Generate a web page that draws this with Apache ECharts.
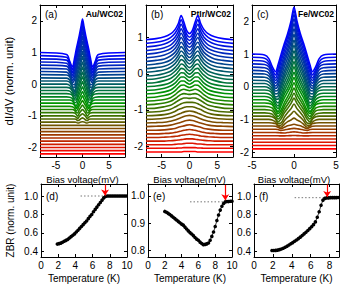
<!DOCTYPE html>
<html><head><meta charset="utf-8">
<script src="https://cdn.jsdelivr.net/npm/echarts@6/dist/echarts.min.js"></script>
<style>html,body{margin:0;padding:0;background:#fff}#c{width:359px;height:284px}</style>
</head><body><div id="c"></div>
<script>
// ---------- Panel (a) Au/WC02: half-profile bias grid (mV), curve offsets, deviations ----------
const biasA = [0,0.3,0.6,0.9,1.2,1.5,1.9,2.4,3.0,8];
const offsetsA = [1.0,0.9,0.8,0.7,0.6,0.5,0.4,0.3,0.2,0.1,0.0,-0.1,-0.2,-0.3,-0.4,-0.5,-0.6,-0.7,-0.8,-0.9,-1.0,-1.1,-1.2,-1.3,-1.4,-1.5,-1.6,-1.7,-1.8,-1.9,-2.0,-2.1,-2.2];
const curvesA = [
[1.06,.80,.54,.31,.08,-.18,-.46,-.28,-.06,0],
[1.03,.77,.51,.29,.05,-.21,-.45,-.24,-.05,0],
[.99,.74,.49,.27,.02,-.23,-.44,-.21,-.04,0],
[.95,.70,.46,.25,.01,-.24,-.42,-.19,-.04,0],
[.90,.66,.42,.21,-.02,-.25,-.40,-.16,-.03,0],
[.85,.62,.39,.18,-.05,-.27,-.38,-.13,-.02,0],
[.79,.57,.36,.17,-.06,-.27,-.35,-.12,-.02,0],
[.73,.52,.31,.12,-.11,-.32,-.29,-.07,-.01,0],
[.67,.47,.28,.10,-.11,-.30,-.27,-.07,-.01,0],
[.60,.41,.23,.06,-.16,-.33,-.20,-.04,0,0],
[.54,.37,.20,.05,-.15,-.31,-.19,-.04,0,0],
[.48,.32,.16,0,-.19,-.28,-.12,-.02,0,0],
[.43,.29,.14,-.01,-.18,-.26,-.11,-.02,0,0],
[.38,.24,.11,-.04,-.20,-.20,-.06,-.01,0,0],
[.32,.20,.09,-.04,-.18,-.18,-.05,-.01,0,0],
[.27,.16,.06,-.08,-.20,-.13,-.03,0,0,0],
[.23,.13,.03,-.10,-.17,-.07,-.01,0,0,0],
[.18,.10,.02,-.09,-.15,-.06,-.01,0,0,0],
[.14,.07,0,-.11,-.10,-.03,0,0,0,0],
[.10,.05,-.02,-.11,-.05,-.01,0,0,0,0],
[.065,.03,-.02,-.09,-.04,-.01,0,0,0,0],
[.035,.01,-.03,-.05,-.01,0,0,0,0,0],
[.015,.005,-.015,-.025,-.005,0,0,0,0,0],
[0,0,0,0,0,0,0,0,0,0],[0,0,0,0,0,0,0,0,0,0],[0,0,0,0,0,0,0,0,0,0],[0,0,0,0,0,0,0,0,0,0],[0,0,0,0,0,0,0,0,0,0],
[0,0,0,0,0,0,0,0,0,0],[0,0,0,0,0,0,0,0,0,0],[0,0,0,0,0,0,0,0,0,0],[0,0,0,0,0,0,0,0,0,0],[0,0,0,0,0,0,0,0,0,0]
];

// ---------- Panel (b) PtIr/WC02 ----------
const biasB = [0,0.5,1.0,1.5,2.0,2.6,3.4,4.5,6.0,7.8];
const offsetsB = [0.94,0.84,0.74,0.64,0.54,0.44,0.34,0.24,0.14,0.04,-0.06,-0.16,-0.26,-0.36,-0.46,-0.56,-0.66,-0.76,-0.86,-0.96,-1.06,-1.16,-1.26,-1.36,-1.46,-1.56,-1.66,-1.76,-1.86,-1.96,-2.06,-2.16];
const curvesB = [
[.17,.25,.48,.67,.45,.28,.16,.08,.03,0],
[.17,.25,.47,.65,.44,.28,.16,.08,.03,0],
[.18,.25,.47,.63,.43,.27,.16,.08,.03,0],
[.18,.26,.46,.60,.42,.27,.15,.08,.03,0],
[.19,.26,.45,.58,.41,.26,.15,.08,.03,0],
[.19,.27,.44,.56,.40,.26,.15,.08,.03,0],
[.20,.27,.44,.53,.39,.25,.15,.07,.03,0],
[.21,.28,.43,.51,.38,.25,.14,.07,.03,0],
[.22,.28,.42,.49,.37,.24,.14,.07,.03,0],
[.23,.29,.41,.47,.36,.24,.14,.07,.03,0],
[.23,.29,.41,.45,.34,.23,.13,.07,.02,0],
[.24,.30,.40,.43,.33,.23,.13,.07,.02,0],
[.25,.30,.39,.41,.32,.22,.13,.07,.02,0],
[.26,.30,.38,.39,.31,.21,.12,.06,.02,0],
[.26,.31,.37,.37,.30,.20,.12,.06,.02,0],
[.27,.31,.36,.36,.29,.20,.11,.06,.02,0],
[.28,.31,.35,.34,.28,.19,.11,.06,.02,0],
[.29,.31,.33,.31,.26,.18,.10,.05,.02,0],
[.29,.30,.31,.29,.24,.17,.10,.05,.02,0],
[.28,.29,.29,.26,.22,.16,.09,.05,.01,0],
[.27,.27,.26,.23,.19,.14,.08,.04,.01,0],
[.25,.25,.23,.20,.17,.12,.07,.03,.01,0],
[.23,.22,.20,.17,.14,.10,.06,.03,.01,0],
[.21,.20,.18,.15,.12,.08,.05,.02,.01,0],
[.18,.17,.15,.12,.10,.07,.04,.02,.01,0],
[.15,.14,.12,.10,.08,.05,.03,.01,0,0],
[.12,.11,.10,.08,.06,.04,.02,.01,0,0],
[.09,.08,.07,.06,.04,.03,.02,.01,0,0],
[.06,.06,.05,.04,.03,.02,.01,0,0,0],
[.04,.04,.03,.02,.02,.01,0,0,0,0],
[.02,.02,.02,.01,.01,0,0,0,0,0],
[.01,.01,.01,0,0,0,0,0,0,0]
];

// ---------- Panel (c) Fe/WC02 ----------
const biasC = [0,0.35,0.75,1.15,1.55,1.9,2.2,2.6,3.0,3.5,5];
const offsetsC = [1.0,0.9,0.8,0.7,0.6,0.5,0.4,0.3,0.2,0.1,0.0,-0.1,-0.2,-0.3,-0.4,-0.5,-0.6,-0.7,-0.8,-0.9,-1.0,-1.1,-1.2,-1.3,-1.4,-1.5,-1.6,-1.7,-1.8,-1.9];
const curvesC = [
[1.44,1.01,.63,.32,-.02,-.33,-.54,-.38,-.14,-.03,0],
[1.43,1.00,.63,.32,-.03,-.34,-.54,-.37,-.14,-.03,0],
[1.41,.99,.61,.30,-.04,-.36,-.53,-.34,-.12,-.03,0],
[1.38,.95,.58,.27,-.07,-.39,-.51,-.30,-.09,-.02,0],
[1.33,.92,.55,.25,-.09,-.39,-.49,-.28,-.08,-.02,0],
[1.27,.87,.53,.24,-.09,-.39,-.48,-.27,-.08,-.02,0],
[1.20,.82,.49,.21,-.11,-.38,-.45,-.23,-.07,-.01,0],
[1.13,.76,.44,.17,-.14,-.40,-.43,-.19,-.06,-.01,0],
[1.07,.72,.42,.16,-.15,-.40,-.42,-.17,-.05,-.01,0],
[1.00,.67,.39,.15,-.15,-.39,-.41,-.16,-.05,0,0],
[.93,.62,.35,.12,-.16,-.38,-.37,-.14,-.04,0,0],
[.87,.57,.31,.09,-.19,-.40,-.32,-.11,-.02,0,0],
[.81,.53,.29,.08,-.19,-.39,-.30,-.09,-.02,0,0],
[.74,.49,.26,.07,-.18,-.37,-.28,-.09,-.02,0,0],
[.68,.45,.24,.06,-.18,-.36,-.27,-.09,-.02,0,0],
[.62,.40,.20,.01,-.22,-.32,-.20,-.05,-.01,0,0],
[.56,.36,.18,.01,-.21,-.31,-.19,-.05,-.01,0,0],
[.50,.32,.16,0,-.20,-.29,-.17,-.04,-.01,0,0],
[.45,.29,.14,0,-.19,-.27,-.16,-.04,-.01,0,0],
[.37,.23,.11,-.03,-.21,-.22,-.09,-.02,0,0,0],
[.25,.16,.07,-.04,-.18,-.18,-.08,-.02,0,0,0],
[.14,.08,.03,-.05,-.14,-.10,-.03,-.01,0,0,0],
[.05,.03,.005,-.04,-.08,-.04,-.01,0,0,0,0],
[.026,.014,0,-.024,-.035,-.01,0,0,0,0,0],
[.02,.011,.001,-.015,-.013,-.003,0,0,0,0,0],
[.01,.005,0,-.005,-.005,0,0,0,0,0,0],
[0,0,0,0,0,0,0,0,0,0,0],[0,0,0,0,0,0,0,0,0,0,0],[0,0,0,0,0,0,0,0,0,0,0],[0,0,0,0,0,0,0,0,0,0,0]
];

// ---------- Panels (d),(e),(f): zero-bias resistance vs temperature ----------
const tempD = [1.9,2.1,2.3,2.5,2.7,2.9,3.1,3.3,3.5,3.7,3.9,4.1,4.3,4.5,4.7,4.9,5.1,5.3,5.5,5.7,5.9,6.1,6.3,6.5,6.7,6.9,7.1,7.3,7.5,7.7,7.9,8.1,8.3,8.5,8.7,8.9,9.1,9.3,9.5,9.7,9.9];
const zbrD = [.48,.485,.49,.50,.51,.52,.53,.545,.56,.575,.59,.61,.63,.65,.67,.69,.71,.73,.755,.78,.80,.83,.855,.88,.905,.93,.955,.98,.995,1.0,1.0,1.0,1.0,1.0,1.0,1.0,1.0,1.0,1.0,1.0,1.0];
const tempE = [2.0,2.2,2.4,2.6,2.8,3.0,3.2,3.4,3.6,3.8,4.0,4.2,4.4,4.6,4.8,5.0,5.2,5.4,5.6,5.8,6.0,6.2,6.4,6.6,6.8,7.0,7.2,7.4,7.6,7.8,8.0,8.2,8.4,8.6,8.8,9.0,9.2,9.4,9.6,9.8,10.0];
const zbrE = [.943,.940,.936,.932,.927,.922,.917,.912,.907,.902,.897,.893,.886,.879,.872,.866,.861,.855,.848,.842,.838,.831,.826,.822,.823,.825,.828,.838,.852,.868,.888,.91,.93,.948,.962,.972,.978,.979,.979,.98,.98];
const tempF = [1.9,2.1,2.3,2.5,2.7,2.9,3.1,3.3,3.5,3.7,3.9,4.1,4.3,4.5,4.7,4.9,5.1,5.3,5.5,5.7,5.9,6.1,6.3,6.5,6.7,6.9,7.1,7.3,7.5,7.7,7.9,8.1,8.3,8.5,8.7,8.9];
const zbrF = [.41,.41,.412,.415,.42,.427,.435,.445,.457,.47,.483,.496,.51,.524,.539,.555,.572,.59,.608,.627,.647,.668,.69,.72,.77,.83,.90,.955,.975,.98,.98,.982,.982,.983,.983,.984];
// dotted guide lines [T_start, T_end] and level, and red arrows [T, top, tip]
const guideT = [[4.6,7.4],[5.0,9.1],[4.3,7.6]];
const guideV = [1.0,0.978,0.982];
const arrowT = [7.45,9.2,7.75];
const arrowTop = [1.125,1.04,1.125];
const arrowTip = [1.005,0.984,0.99];

const panelLetters = ['(a)','(b)','(c)','(d)','(e)','(f)'];
const materials = ['Au/WC02','PtIr/WC02','Fe/WC02'];

// ---------- layout ----------
const FONT = "'Liberation Sans', Arial, sans-serif";
const grids = [
  {left:40, top:5, width:85, height:152},
  {left:146, top:5, width:87, height:152},
  {left:252, top:5, width:84, height:152},
  {left:41, top:184, width:86, height:73},
  {left:148, top:184, width:84, height:73},
  {left:254, top:184, width:85, height:73}
];
function mult(v, m, d){ const q=v/m; if(Math.abs(q-Math.round(q))>1e-6) return ''; return d ? (Math.round(q)*m).toFixed(d) : String(Math.round(q)*m); }
const axCfg = [
  {x:[-8,8], y:[-2.3,2.5], xs:3, ys:5, xf:v=>mult(v,5), yf:v=>mult(v,1)},
  {x:[-7.8,7.8], y:[-2.3,1.9], xs:3, ys:5, xf:v=>mult(v,5), yf:v=>mult(v,1)},
  {x:[-5,5], y:[-2.15,2.5], xi:5, ys:5, xf:v=>mult(v,5), yf:v=>mult(v,1)},
  {x:[0,10], y:[0.34,1.13], xi:2, ys:4, xf:v=>mult(v,2), yf:v=>mult(v,0.2,1)},
  {x:[0,10], y:[0.777,1.043], xi:2, ys:3, xf:v=>mult(v,2), yf:v=>mult(v,0.1,1)},
  {x:[0,9], y:[0.34,1.13], xi:2, ys:4, xf:v=>mult(v,2), yf:v=>mult(v,0.2,1)}
];
const line = {onZero:false, lineStyle:{color:'#000', width:1}};
const xAxes=[], yAxes=[];
axCfg.forEach((c,g)=>{
  const isTop = g<3;
  const bx = {gridIndex:g, type:'value', min:c.x[0], max:c.x[1], position:'bottom',
    axisLine:line, splitLine:{show:false},
    axisTick:{inside:true, length:3, lineStyle:{color:'#000'}},
    axisLabel:{color:'#000', fontSize:10, fontFamily:FONT, margin:3, formatter:c.xf},
    name: isTop ? 'Bias voltage(mV)' : 'Temperature (K)', nameLocation:'middle', nameGap: isTop?16:16,
    nameTextStyle:{color:'#000', fontSize: isTop?9.5:10, fontFamily:FONT}};
  if (c.xi) bx.interval=c.xi; else bx.splitNumber=c.xs;
  const tx = Object.assign({}, bx, {position:'top', axisLabel:{show:false}, name:''});
  xAxes.push(bx, tx);
  const ly = {gridIndex:g, type:'value', min:c.y[0], max:c.y[1], position:'left', splitNumber:c.ys,
    axisLine:line, splitLine:{show:false},
    axisTick:{inside:true, length:3, lineStyle:{color:'#000'}},
    axisLabel:{color:'#000', fontSize:10, fontFamily:FONT, margin:3, formatter:c.yf},
    nameTextStyle:{color:'#000', fontSize:10, fontFamily:FONT}};
  if (g===0){ ly.name='dI/dV (norm. unit)'; ly.nameLocation='middle'; ly.nameGap=25; ly.nameTextStyle.fontSize=11.5; }
  if (g===3){ ly.name='ZBR (norm. unit)'; ly.nameLocation='middle'; ly.nameGap=26; }
  const ry = Object.assign({}, ly, {position:'right', axisLabel:{show:false}, name:''});
  yAxes.push(ly, ry);
});

function cmap(t){
  let r,g,b;
  if(t<0.5){const s=t/0.5; r=0; g=Math.round(150*s); b=Math.round(255*(1-s));}
  else {const s=(t-0.5)/0.5; r=Math.round(255*s); g=Math.round(150*(1-s)); b=0;}
  return 'rgb('+r+','+g+','+b+')';
}
const series=[];
function spectra(bias, offsets, rows, g){
  const n=rows.length;
  rows.forEach((row,i)=>{
    const pts=[];
    for(let k=bias.length-1;k>0;k--) pts.push([-bias[k], offsets[i]+row[k]]);
    for(let k=0;k<bias.length;k++) pts.push([bias[k], offsets[i]+row[k]]);
    series.push({type:'line', xAxisIndex:2*g, yAxisIndex:2*g, data:pts, showSymbol:false, smooth:0.3,
      lineStyle:{width:1.6, color:cmap(i/(n-1))}, silent:true, animation:false});
  });
}
spectra(biasA, offsetsA, curvesA, 0);
spectra(biasB, offsetsB, curvesB, 1);
spectra(biasC, offsetsC, curvesC, 2);

[[tempD,zbrD],[tempE,zbrE],[tempF,zbrF]].forEach(([t,z],j)=>{
  const g=3+j;
  series.push({type:'line', xAxisIndex:2*g, yAxisIndex:2*g,
    data:[[guideT[j][0],guideV[j]],[guideT[j][1],guideV[j]]], showSymbol:false,
    lineStyle:{color:'#777', width:1, type:[1.5,2]}, silent:true, animation:false});
  series.push({type:'line', xAxisIndex:2*g, yAxisIndex:2*g, data:t.map((x,i)=>[x,z[i]]),
    symbol:'circle', symbolSize:3.6, showSymbol:true, itemStyle:{color:'#000'},
    lineStyle:{color:'#000', width:0.8}, silent:true, animation:false,
    markLine:{silent:true, animation:false, symbol:['none','arrow'], symbolSize:6, label:{show:false},
      lineStyle:{color:'#ff0000', width:1.2, type:'solid'},
      data:[[{coord:[arrowT[j],arrowTop[j]]},{coord:[arrowT[j],arrowTip[j]]}]]}});
});

const graphic=[];
grids.forEach((gr,g)=>{
  graphic.push({type:'text', x:gr.left+5, y:gr.top+(g<3?9:12), silent:true,
    style:{text:panelLetters[g], fill:'#000', font:'10px '+FONT, verticalAlign:'middle'}});
  if(g<3) graphic.push({type:'text', x:gr.left+gr.width-2, y:gr.top+9, silent:true,
    style:{text:materials[g], fill:'#000', font:'bold 8.5px '+FONT, align:'right', verticalAlign:'middle'}});
});

const chart = echarts.init(document.getElementById('c'), null, {renderer:'svg', width:359, height:284});
chart.setOption({animation:false, backgroundColor:'#fff', grid:grids, xAxis:xAxes, yAxis:yAxes, series:series, graphic:graphic});
</script>
</body></html>
